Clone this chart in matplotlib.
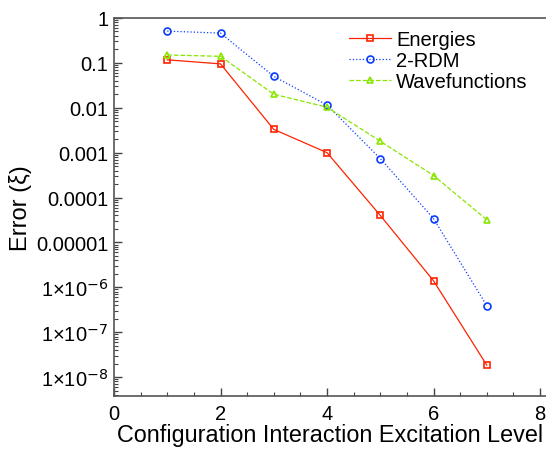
import numpy as np
import matplotlib
matplotlib.use("Agg")
import matplotlib.pyplot as plt
from matplotlib.ticker import FixedLocator, FuncFormatter, LogLocator, MultipleLocator

plt.rcParams['font.family'] = ['Liberation Sans', 'DejaVu Sans']

# Datos
niveles = [1, 2, 3, 4, 5, 6, 7]
energias = [0.117, 0.095, 3.3e-3, 1.0e-3, 4.0e-5, 1.4e-6, 1.85e-8]
rdm2 = [0.51, 0.46, 0.050, 0.0115, 7.4e-4, 3.4e-5, 3.9e-7]
funciones = [0.15, 0.14, 0.020, 0.0103, 1.8e-3, 3.1e-4, 3.2e-5]

etiquetas_y = {0: "1", -1: "0.1", -2: "0.01", -3: "0.001", -4: "0.0001", -5: "0.00001",
               -6: "1×10$^{-6}$", -7: "1×10$^{-7}$", -8: "1×10$^{-8}$"}

fig = plt.figure(figsize=(5.46, 4.52), dpi=100)
ax = fig.add_axes([0.2088, 0.1217, 0.792, 0.8363])

ax.plot(niveles, energias, '-', color='#ff2200', lw=0.9, marker='s', ms=5,
        mfc='none', mec='#ff2200', mew=1.2, label='Energies')
ax.plot(niveles, rdm2, ':', color='#0a3cff', lw=0.9, marker='o', ms=5,
        mfc='none', mec='#0a3cff', mew=1.2, label='2-RDM')
ax.plot(niveles, funciones, '--', color='#88e600', lw=0.9, marker='^', ms=5,
        mfc='none', mec='#88e600', mew=1.2, label='Wavefunctions')

ax.set_yscale('log')
ax.set_ylim(10**-8.42, 1.0)
ax.set_xlim(0, 8.12)

ax.yaxis.set_major_locator(FixedLocator([10.0**k for k in etiquetas_y]))
ax.yaxis.set_major_formatter(FuncFormatter(
    lambda v, p: etiquetas_y.get(int(round(np.log10(v))), "")))
ax.yaxis.set_minor_locator(LogLocator(base=10, subs=np.arange(2, 10), numticks=20))
ax.xaxis.set_major_locator(MultipleLocator(2))
ax.xaxis.set_minor_locator(MultipleLocator(0.5))

ax.tick_params(which='both', direction='in', labelsize=14.5, color='#444444')
ax.tick_params(which='major', length=6, width=1)
ax.tick_params(which='minor', length=3, width=0.8)
ax.tick_params(axis='x', pad=6)
ax.tick_params(axis='y', pad=4)

for lado in ['left', 'bottom', 'top']:
    ax.spines[lado].set_color('#555555')
    ax.spines[lado].set_linewidth(1.2)
ax.spines['right'].set_visible(False)

ax.set_xlabel('Configuration Interaction Excitation Level', fontsize=16.8, labelpad=0)
ax.set_ylabel('Error (ξ)', fontsize=17, labelpad=3)

ax.legend(loc='upper right', frameon=False, fontsize=14.5, handlelength=2.1,
          handletextpad=0.25, labelspacing=0.1, borderaxespad=0.2,
          bbox_to_anchor=(0.985, 1.0))

fig.savefig('out.png', dpi=100)
